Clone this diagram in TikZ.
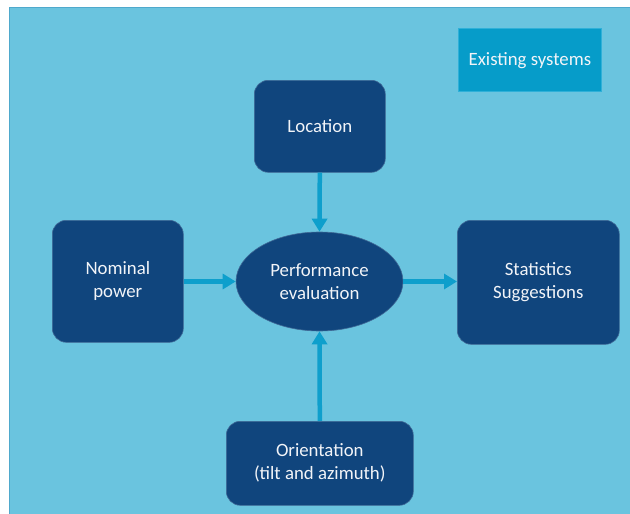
\documentclass[tikz,border=0pt]{standalone}
\usepackage{fontspec}
\setmainfont{Carlito}
\usetikzlibrary{arrows.meta,shapes.geometric}
\definecolor{panelbg}{HTML}{6AC4DF}
\definecolor{panelrim}{HTML}{4FA9CC}
\definecolor{navy}{HTML}{10457D}
\definecolor{tagfill}{HTML}{069CC9}
\definecolor{tagrim}{HTML}{2FB0D8}
\definecolor{flow}{HTML}{0E9FCC}
\definecolor{ink}{HTML}{F2F4F8}
\tikzset{
  x=1pt, y=-1pt,
  label font/.style={font=\fontsize{18.8}{23}\selectfont},
  box/.style={fill=navy, draw=navy!80!white, line width=0.6pt, rounded corners=14pt,
    text=ink, label font, align=center, anchor=north west, inner sep=0pt},
  hub/.style={ellipse, fill=navy, draw=navy!80!white, line width=0.6pt, text=ink,
    label font, align=center, inner sep=0pt},
  tag/.style={fill=tagfill, draw=tagrim, line width=0.8pt, text=ink,
    label font, anchor=north west, inner sep=0pt, text depth=1pt},
  link/.style={draw=flow, line width=4.5pt, -{Triangle[length=13pt,width=15pt]}}
}
\begin{document}
\begin{tikzpicture}
  \useasboundingbox (0,0) rectangle (630,514);
  \fill[white] (0,0) rectangle (630,514);
  \filldraw[fill=panelbg, draw=panelrim, line width=1pt] (9.5,7.5) rectangle (640,530);

  \node[tag, minimum width=143pt, minimum height=63pt] (sys) at (458,28) {Existing systems};

  \node[box, minimum width=131pt, minimum height=92pt] (loc) at (254,80) {Location};
  \node[box, minimum width=131pt, minimum height=122pt] (nom) at (52,220) {Nominal\\power};
  \node[box, minimum width=162pt, minimum height=124pt] (stat) at (457,220) {Statistics\\Suggestions};
  \node[box, minimum width=187pt, minimum height=84pt] (ori) at (226,421) {Orientation\\(tilt and azimuth)};
  \node[hub, minimum width=167pt, minimum height=99pt] (perf) at (319.5,281.5) {Performance\\evaluation};

  \draw[link] (loc.south) -- (perf.north);
  \draw[link] (ori.north) -- (perf.south);
  \draw[link] (nom.east |- perf.west) -- (perf.west);
  \draw[link] (perf.east) -- (stat.west |- perf.east);
\end{tikzpicture}
\end{document}
